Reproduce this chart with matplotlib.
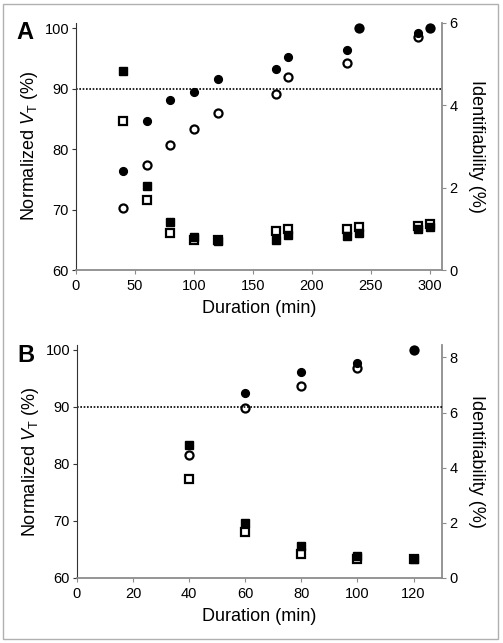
import matplotlib
matplotlib.use("Agg")
import matplotlib.pyplot as plt
from matplotlib.patches import Rectangle

plt.rcParams['font.family'] = ['Liberation Sans', 'DejaVu Sans']
plt.rcParams['mathtext.fontset'] = 'custom'
plt.rcParams['mathtext.rm'] = 'Liberation Sans'
plt.rcParams['mathtext.it'] = 'Liberation Sans:italic'

# ---- Panel A data ----
a_dur = [40, 60, 80, 100, 120, 170, 180, 230, 240, 290, 300]
a_vt_filled = [76.3, 84.6, 88.1, 89.5, 91.5, 93.2, 95.2, 96.4, 100.0, 99.1, 100.0]
a_vt_open = [70.2, 77.4, 80.7, 83.3, 85.9, 89.1, 91.9, 94.2, 100.0, 98.5, 100.0]
a_id_filled = [4.84, 2.04, 1.17, 0.79, 0.70, 0.74, 0.84, 0.82, 0.91, 0.99, 1.05]
a_id_open = [3.61, 1.69, 0.89, 0.73, 0.73, 0.95, 0.99, 0.99, 1.05, 1.08, 1.12]

# ---- Panel B data ----
b_dur = [40, 60, 80, 100, 120]
b_vt_filled_dur = [60, 80, 100, 120]
b_vt_filled = [92.4, 96.2, 97.8, 100.0]
b_vt_open = [81.5, 89.8, 93.75, 96.8, 100.0]
b_id_filled = [4.81, 2.01, 1.15, 0.78, 0.69]
b_id_open = [3.58, 1.66, 0.87, 0.69, 0.69]

fig = plt.figure(figsize=(5.03, 6.43), dpi=100)
fig.patches.append(Rectangle((0.006, 0.006), 0.985, 0.988, transform=fig.transFigure,
                             fill=False, edgecolor='#b0b0b0', linewidth=1.0))

GRAY = '#8c8c8c'


def panel(rect, letter, xlim, xticks, right_top, right_ticks,
          dur_vf, vt_f, dur_vo, vt_o, dur_id, id_f, id_o):
    ax = fig.add_axes(rect)
    ax2 = ax.twinx()
    ax.set_zorder(ax2.get_zorder() + 1)
    ax.patch.set_visible(False)

    ax.set_xlim(*xlim)
    ax.set_ylim(60, 100.88)
    ax2.set_ylim(0, right_top)
    ax.set_xticks(xticks)
    ax.set_yticks([60, 70, 80, 90, 100])
    ax2.set_yticks(right_ticks)

    ax.axhline(90, color='black', linestyle=(0, (1, 1)), linewidth=1.2, zorder=1)

    # identifiability squares (right axis)
    ax2.plot(dur_id, id_f, linestyle='none', marker='s', ms=5.2, color='black', zorder=3)
    ax2.plot(dur_id, id_o, linestyle='none', marker='s', ms=5.6, mfc='none', mec='black',
             mew=1.6, zorder=4)
    # normalized VT circles (left axis)
    ax.plot(dur_vf, vt_f, linestyle='none', marker='o', ms=5.6, color='black', zorder=3)
    ax.plot(dur_vo, vt_o, linestyle='none', marker='o', ms=5.8, mfc='none', mec='black',
            mew=1.6, zorder=4)

    for a in (ax, ax2):
        a.spines['top'].set_visible(False)
    ax.spines['right'].set_visible(False)
    ax2.spines['left'].set_visible(False)
    ax2.spines['bottom'].set_visible(False)
    ax.spines['left'].set_color('#333333')
    ax.spines['bottom'].set_color(GRAY)
    ax2.spines['right'].set_color(GRAY)
    ax.spines['bottom'].set_linewidth(1.3)
    ax2.spines['right'].set_linewidth(1.3)

    ax.tick_params(axis='x', direction='out', length=3, color=GRAY, labelsize=10.5, pad=3.5)
    ax.tick_params(axis='y', direction='out', length=3, color='#333333', labelsize=10.5, pad=2)
    ax2.tick_params(axis='y', direction='out', length=3, color=GRAY, labelsize=10.5, pad=2.5)

    ax.set_xlabel('Duration (min)', fontsize=13, labelpad=5)
    ax.set_ylabel(r'Normalized $\mathit{V}_{\mathrm{T}}$ (%)', fontsize=13, labelpad=3)
    ax2.set_ylabel('Identifiability (%)', fontsize=13, rotation=270, labelpad=20)
    ax.text(-0.163, 1.005, letter, transform=ax.transAxes, fontsize=17, fontweight='bold',
            ha='left', va='top')
    return ax


panel([0.151, 0.580, 0.727, 0.3847], 'A', (0, 310), [0, 50, 100, 150, 200, 250, 300],
      6, [0, 2, 4, 6],
      a_dur, a_vt_filled, a_dur, a_vt_open, a_dur, a_id_filled, a_id_open)

panel([0.153, 0.1011, 0.725, 0.3624], 'B', (0, 130), [0, 20, 40, 60, 80, 100, 120],
      8.45, [0, 2, 4, 6, 8],
      b_vt_filled_dur, b_vt_filled, b_dur, b_vt_open, b_dur, b_id_filled, b_id_open)

fig.savefig('out.png', dpi=100)
